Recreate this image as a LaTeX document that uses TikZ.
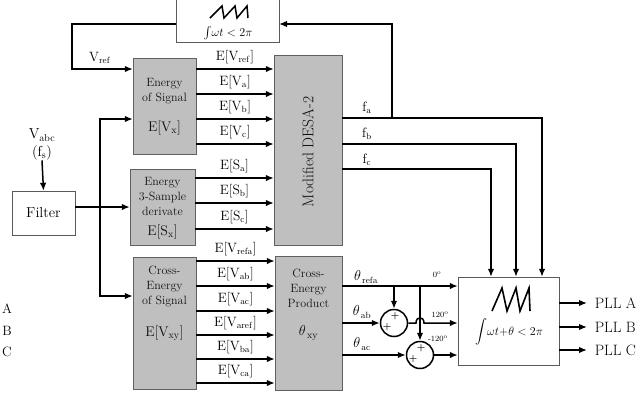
\documentclass[tikz,border=0pt]{standalone}
\usepackage{amsmath}
\usepackage{tikz}
\usetikzlibrary{arrows.meta}

\begin{document}
\begin{tikzpicture}[x=1pt,y=-1pt,
    blk/.style={draw=gray!75!black,fill=gray!50,inner sep=0pt},
    wblk/.style={draw=gray!70!black,fill=white,inner sep=0pt},
    sig/.style={line width=1.5pt,-{Latex[length=8pt,width=6.5pt]}},
    wire/.style={line width=1.5pt},
    sumc/.style={circle,draw,line width=1.5pt,minimum size=27pt,inner sep=0pt},
    lbl/.style={font=\fontsize{13.5}{15}\selectfont,inner sep=1pt},
    txt/.style={font=\fontsize{12}{15}\selectfont,text=gray!15!black,align=center,inner sep=0pt},
    big/.style={font=\fontsize{14}{15}\selectfont,text=gray!10!black,inner sep=0pt},
    deg/.style={font=\fontsize{8}{8}\selectfont,inner sep=0pt},
    pl/.style={font=\bfseries\fontsize{9.5}{9}\selectfont,inner sep=0pt}]
  \useasboundingbox (0,0) rectangle (643,394);

  \node[wblk,minimum width=103pt,minimum height=43pt] (saw) at (227.5,20.5) {};
  \draw[wire] (210,18) -- (222,6) -- (224,18) -- (235,6) -- (237,18) -- (247,6) -- (248,18);
  \node[font=\fontsize{11.5}{12}\selectfont,inner sep=0pt] (sawtxt) at (228,33) {$\int\!\omega t<2\pi$};

  \node[blk,minimum width=63pt,minimum height=96pt] (es) at (164.5,106) {};
  \node[txt] (estxt) at (164.5,91) {Energy\\of Signal};
  \node[big] (esv) at (164.5,128) {E[V$_\mathrm{x}$]};

  \node[blk,minimum width=65pt,minimum height=76pt] (ss) at (162.5,207) {};
  \node[txt] (sstxt) at (162.5,196) {Energy\\3-Sample\\derivate};
  \node[big] (ssv) at (162.5,232) {E[S$_\mathrm{x}$]};

  \node[blk,minimum width=63pt,minimum height=132pt] (ce) at (164.5,323) {};
  \node[txt] (cetxt) at (164.5,287) {Cross-\\Energy\\of Signal};
  \node[big] (cev) at (164.5,333) {E[V$_\mathrm{xy}$]};

  \node[blk,minimum width=68pt,minimum height=190pt] (desa) at (308,150) {};
  \node[rotate=90,font=\fontsize{15.5}{16}\selectfont,text=gray!10!black] (desatxt) at (308,152) {Modified DESA-2};

  \node[blk,minimum width=67pt,minimum height=134pt] (cp) at (308.5,323) {};
  \node[txt] (cptxt) at (308.5,288) {Cross-\\Energy\\Product};
  \node[big] (cpv) at (308.5,333) {$\theta_{\,\mathrm{xy}}$};

  \node[wblk,minimum width=63pt,minimum height=44pt,font=\fontsize{14.5}{16}\selectfont] (filt) at (43.5,213) {Filter};
  \node[font=\fontsize{14.5}{16}\selectfont,inner sep=0pt] (vabc) at (42,135) {V$_\mathrm{abc}$};
  \node[font=\fontsize{14.5}{16}\selectfont,inner sep=0pt] (fs) at (42,153) {(f$_\mathrm{s}$)};

  \node[wblk,minimum width=101pt,minimum height=88pt] (integ) at (508.5,321) {};
  \draw[line width=1.6pt] (492,311) -- (502,288) -- (507,311) -- (516,288) -- (520,311) -- (529,288) -- (530,311);
  \node[font=\fontsize{13}{14}\selectfont,inner sep=0pt] (integtxt) at (509,332) {$\displaystyle\int\!\omega t{+}\theta<2\pi$};

  \node[sumc] (s1) at (394,323) {};
  \node[sumc] (s2) at (420,355) {};
  \node[pl] (p1a) at (395,316) {+};
  \node[pl] (p1b) at (387,327) {+};
  \node[pl] (p2a) at (421,348) {+};
  \node[pl] (p2b) at (413,359) {+};

  \node[lbl] (la) at (7,309) {A};
  \node[lbl] (lb) at (7,331) {B};
  \node[lbl] (lc) at (7,352) {C};

  \coordinate (sawL) at (176,24);
  \coordinate (sawR) at (279,24);
  \coordinate (vrefc) at (72,69);
  \coordinate (faj) at (392,118);
  \coordinate (br) at (100,207);
  \coordinate (j1) at (394,286);
  \coordinate (j2) at (420,286);

  \draw[sig] (sawL) -| (vrefc) -- (es.west |- vrefc);
  \node[lbl] (vref) at (100,58) {V$_\mathrm{ref}$};
  \draw[sig] (fs.south) -- (filt.north);
  \draw[sig] (filt.east |- br) -- (ss.west |- br);
  \draw[sig] (br) |- (es.west |- 0,119);
  \draw[sig] (br) |- (ce.west |- 0,296);

  \foreach \y/\s in {69/ref,94/a,119/b,144/c}
    \draw[sig] (es.east |- 0,\y) -- (desa.west |- 0,\y) node[lbl,midway,above=3.5pt] {E[V$_\mathrm{\s}$]};
  \foreach \y/\s in {178/a,203/b,229/c}
    \draw[sig] (ss.east |- 0,\y) -- (desa.west |- 0,\y) node[lbl,midway,above=3.5pt] {E[S$_\mathrm{\s}$]};
  \foreach \y/\s in {261/refa,286/ab,311/ac,335/aref,359/ba,383/ca}
    \draw[sig] (ce.east |- 0,\y) -- (cp.west |- 0,\y) node[lbl,midway,above=3.5pt] {E[V$_\mathrm{\s}$]};

  \draw[sig] (desa.east |- faj) -| (integ.north -| 542,0);
  \draw[sig] (faj) |- (sawR);
  \draw[sig] (desa.east |- 0,144) -| (integ.north -| 516,0);
  \draw[sig] (desa.east |- 0,169) -| (integ.north -| 491,0);
  \node[lbl] (fa) at (367,108) {f$_\mathrm{a}$};
  \node[lbl] (fb) at (367,134) {f$_\mathrm{b}$};
  \node[lbl] (fc) at (367,160) {f$_\mathrm{c}$};

  \draw[sig] (cp.east |- j1) -- (integ.west |- j1);
  \draw[sig] (j1) -- (s1.north);
  \draw[sig] (j2) -- (s2.north);
  \draw[sig] (cp.east |- s1) -- (s1.west);
  \draw[sig] (s1.east) -- (416,323) .. controls (416,316) and (424,316) .. (424,323) -- (integ.west |- s1);
  \draw[sig] (cp.east |- s2) -- (s2.west);
  \draw[sig] (s2.east) -- (integ.west |- s2);
  \node[lbl] (trefa) at (366,277) {$\theta_{\,\mathrm{refa}}$};
  \node[lbl] (tab) at (362,312) {$\theta_{\,\mathrm{ab}}$};
  \node[lbl] (tac) at (362,344) {$\theta_{\,\mathrm{ac}}$};
  \node[deg] (d0) at (437,275) {0$^\mathrm{o}$};
  \node[deg] (d120) at (440,315) {120$^\mathrm{o}$};
  \node[deg] (dm120) at (438,339) {-120$^\mathrm{o}$};

  \foreach \y/\s in {303/A,327/B,350/C}
    \draw[sig] (integ.east |- 0,\y) -- (587,\y) node[lbl,right=6pt,font=\fontsize{15}{16}\selectfont] {PLL \s};
\end{tikzpicture}
\end{document}
